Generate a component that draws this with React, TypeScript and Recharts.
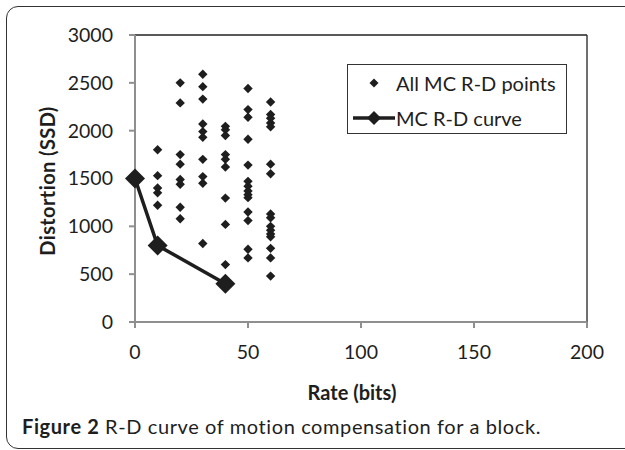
import React from 'react';
import { ScatterChart, Scatter, XAxis, YAxis, ReferenceLine, Legend } from 'recharts';

// Distortion (SSD) of every motion-compensation candidate, grouped by rate (bits)
const distortion10 = [1800, 1530, 1400, 1350, 1220];
const distortion20 = [2500, 2290, 1750, 1650, 1490, 1440, 1200, 1080];
const distortion30 = [2590, 2460, 2330, 2070, 1990, 1930, 1700, 1520, 1450, 820];
const distortion40 = [2045, 2010, 1950, 1750, 1700, 1620, 1295, 1020, 600];
const distortion50 = [2440, 2220, 2140, 1910, 1640, 1470, 1420, 1370, 1330, 1300, 1150, 1060, 760, 670];
const distortion60 = [2300, 2170, 2130, 2080, 2040, 1650, 1550, 1130, 1090, 1000, 960, 920, 890, 770, 670, 480];

// Lower convex hull: the R-D curve
const curveRates = [0, 10, 40];
const curveDistortion = [1500, 800, 400];

const xTicks = [0, 50, 100, 150, 200];
const yTicks = [0, 500, 1000, 1500, 2000, 2500, 3000];

const groups: [number, number[]][] = [
  [10, distortion10],
  [20, distortion20],
  [30, distortion30],
  [40, distortion40],
  [50, distortion50],
  [60, distortion60],
];

const allPoints = groups.flatMap(([rate, ds]) => ds.map((d) => ({ rate, distortion: d })));
const curvePoints = curveRates.map((r, i) => ({ rate: r, distortion: curveDistortion[i] }));

const FONT = 'Lato, "Open Sans", sans-serif';
const INK = '#1e1e1e';

const diamond = (cx: number, cy: number, h: number) =>
  `${cx},${cy - h} ${cx + h},${cy} ${cx},${cy + h} ${cx - h},${cy}`;

const SmallDiamond = (props: any) => {
  const { cx, cy } = props;
  if (cx == null || cy == null) return null;
  return <polygon points={diamond(cx, cy, 4.7)} fill={INK} />;
};

const BigDiamond = (props: any) => {
  const { cx, cy } = props;
  if (cx == null || cy == null) return null;
  return <polygon points={diamond(cx, cy, 10)} fill={INK} />;
};

const LegendBox = () => (
  <div
    style={{
      width: 220,
      height: 70,
      border: '1.3px solid #333',
      boxSizing: 'border-box',
      background: '#fff',
      fontFamily: FONT,
      fontSize: 20,
      color: INK,
      position: 'relative',
    }}
  >
    <svg width={220} height={70} style={{ position: 'absolute', left: 0, top: 0 }}>
      <polygon points={diamond(26, 18, 4.5)} fill={INK} />
      <line x1={5} y1={53} x2={47} y2={53} stroke={INK} strokeWidth={3.5} />
      <polygon points={diamond(26, 53, 7)} fill={INK} />
    </svg>
    <div style={{ position: 'absolute', left: 48, top: 6, whiteSpace: 'nowrap' }}>All MC R-D points</div>
    <div style={{ position: 'absolute', left: 48, top: 41, whiteSpace: 'nowrap' }}>MC R-D curve</div>
  </div>
);

export default function App() {
  return (
    <div
      style={{
        position: 'absolute',
        left: 0,
        top: 0,
        width: 625,
        height: 450,
        overflow: 'hidden',
        background: '#fff',
      }}
    >
      <div
        style={{
          position: 'absolute',
          left: 6,
          top: 6,
          width: 700,
          height: 443,
          border: '1.6px solid #333',
          borderRadius: 12,
          boxSizing: 'border-box',
        }}
      />
      <div style={{ position: 'absolute', left: 0, top: 0 }}>
        <ScatterChart width={625} height={450} margin={{ top: 35, right: 38, bottom: 88, left: 65 }}>
          <XAxis
            type="number"
            dataKey="rate"
            domain={[0, 200]}
            ticks={xTicks}
            interval={0}
            height={40}
            stroke="#8f8f8f"
            strokeWidth={2}
            tickSize={6}
            tickMargin={17}
            tick={{ fill: INK, fontFamily: FONT, fontSize: 19.5 }}
          />
          <YAxis
            type="number"
            dataKey="distortion"
            domain={[0, 3000]}
            ticks={yTicks}
            interval={0}
            width={70}
            stroke="#8f8f8f"
            strokeWidth={2}
            tickSize={6}
            tickMargin={16}
            tick={{ fill: INK, fontFamily: FONT, fontSize: 19.5 }}
          />
          <ReferenceLine y={3000} stroke="#222" strokeWidth={1.3} />
          <ReferenceLine x={200} stroke="#222" strokeWidth={1.3} />
          <Legend
            layout="vertical"
            align="center"
            verticalAlign="middle"
            wrapperStyle={{ left: 347, top: 64, width: 220, height: 70 }}
            content={() => <LegendBox />}
          />
          <Scatter
            name="All MC R-D points"
            data={allPoints}
            shape={SmallDiamond}
            isAnimationActive={false}
          />
          <Scatter
            name="MC R-D curve"
            data={curvePoints}
            line={{ stroke: INK, strokeWidth: 3.5 }}
            lineType="joint"
            shape={BigDiamond}
            isAnimationActive={false}
          />
        </ScatterChart>
      </div>
      <div
        style={{
          position: 'absolute',
          left: 352,
          top: 380,
          transform: 'translateX(-50%)',
          fontFamily: FONT,
          fontWeight: 700,
          fontSize: 20,
          color: INK,
          whiteSpace: 'nowrap',
        }}
      >
        Rate (bits)
      </div>
      <div
        style={{
          position: 'absolute',
          left: 47,
          top: 181,
          transform: 'translate(-50%, -50%) rotate(-90deg)',
          fontFamily: FONT,
          fontWeight: 700,
          fontSize: 20,
          letterSpacing: 0.4,
          color: INK,
          whiteSpace: 'nowrap',
        }}
      >
        Distortion (SSD)
      </div>
      <div
        style={{
          position: 'absolute',
          left: 22,
          top: 414,
          fontFamily: FONT,
          fontSize: 20,
          letterSpacing: 0.6,
          color: INK,
          whiteSpace: 'nowrap',
        }}
      >
        <b>Figure 2</b> R-D curve of motion compensation for a block.
      </div>
    </div>
  );
}
